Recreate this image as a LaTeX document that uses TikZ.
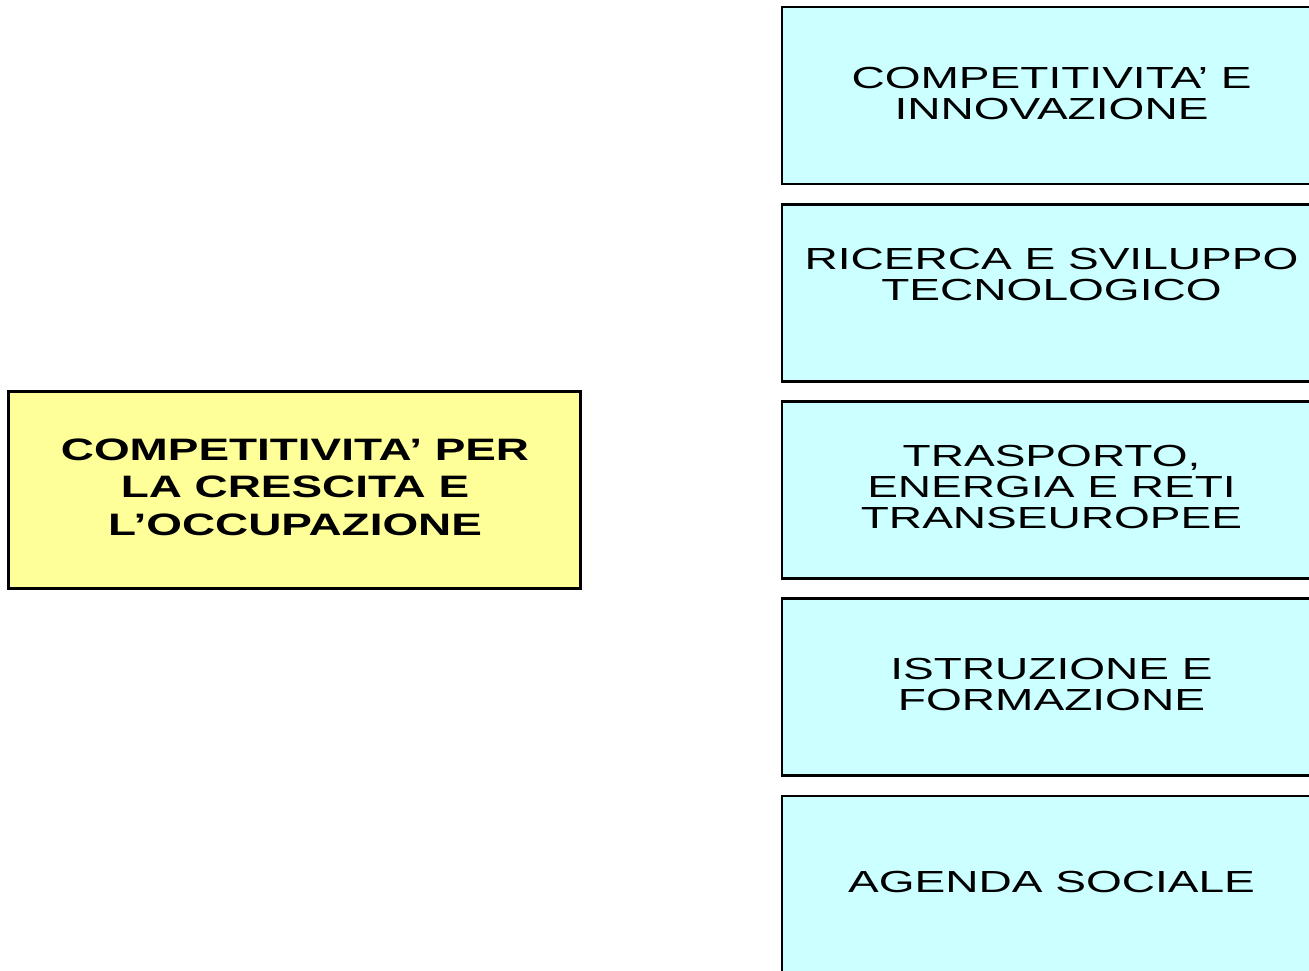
\documentclass[tikz,border=0pt]{standalone}
\usepackage{fontspec}
\setmainfont{Liberation Sans}[FakeStretch=1.46]
\newfontfamily\rightfont{Liberation Sans}[FakeStretch=1.51]
\newfontfamily\leftfont{Liberation Sans}[FakeStretch=1.48]
\definecolor{boxcyan}{HTML}{CCFFFF}
\definecolor{boxyellow}{HTML}{FFFF99}
\tikzset{
  cbox/.style={draw=black, line width=2.6pt, fill=boxcyan, rectangle, inner sep=0pt, outer sep=0pt,
    minimum width=540pt, minimum height=177pt, anchor=north west},
  ybox/.style={draw=black, line width=2.6pt, fill=boxyellow, rectangle, inner sep=0pt, outer sep=0pt,
    minimum width=572pt, minimum height=197pt, anchor=north west},
  rtxt/.style={inner sep=0pt, align=center, font=\rightfont\fontsize{30.5}{31}\selectfont},
  ltxt/.style={inner sep=0pt, align=center, font=\leftfont\bfseries\fontsize{31}{37.3}\selectfont}
}
\begin{document}
\begin{tikzpicture}[x=1pt,y=-1pt]
\useasboundingbox (0,0) rectangle (1309,970);
\clip (0,0) rectangle (1309,970);
\fill[white] (0,0) rectangle (1309,970);
% left box
\node[ybox] (main) at (8.5,391.5) {};
\node[ltxt] (maintext) at (295,487.3) {COMPETITIVITA’ PER\\LA CRESCITA E\\L’OCCUPAZIONE};
% right boxes
\node[cbox] (b1) at (782,7) {};
\node[cbox] (b2) at (782,204.5) {};
\node[cbox] (b3) at (782,401.5) {};
\node[cbox] (b4) at (782,598.5) {};
\node[cbox] (b5) at (782,796) {};
\node[rtxt] (t1) at (1051.5,93) {COMPETITIVITA’ E\\INNOVAZIONE};
\node[rtxt] (t2) at (1051.5,274) {RICERCA E SVILUPPO\\TECNOLOGICO};
\node[rtxt] (t3) at (1051.5,486.5) {TRASPORTO,\\ENERGIA E RETI\\TRANSEUROPEE};
\node[rtxt] (t4) at (1051.5,684) {ISTRUZIONE E\\FORMAZIONE};
\node[rtxt] (t5) at (1051.5,882) {AGENDA SOCIALE};
\end{tikzpicture}
\end{document}
